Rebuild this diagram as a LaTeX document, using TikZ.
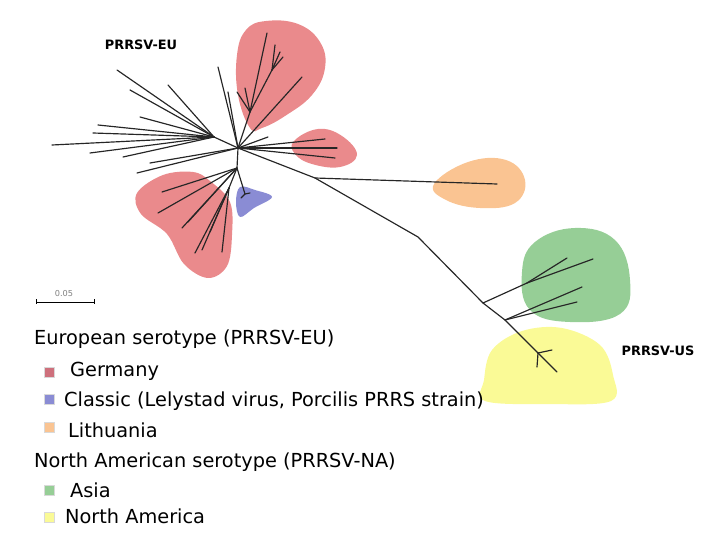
\documentclass[tikz,border=0pt]{standalone}
\usepackage{fontspec}
\setmainfont{DejaVu Sans}
\usetikzlibrary{calc}

\definecolor{germany}{RGB}{234,138,140}
\definecolor{classic}{RGB}{138,140,212}
\definecolor{lithuania}{RGB}{250,196,146}
\definecolor{asia}{RGB}{150,206,150}
\definecolor{northam}{RGB}{250,250,150}
\definecolor{germanykey}{RGB}{206,112,124}

\begin{document}
\begin{tikzpicture}[x=0.03cm, y=-0.03cm,
  branch/.style={line width=1pt, black!85, line cap=round},
  legtext/.style={anchor=base west, font=\fontsize{16.5}{19}\selectfont},
  keybox/.style={minimum size=0.3cm, inner sep=0pt, draw=white!70!gray, line width=0.3pt},
  clade/.style={font=\bfseries\fontsize{11}{13}\selectfont}]
  \useasboundingbox (0,0) rectangle (720,540);
  % gefaerbte Gruppen
  \fill[germany] plot[smooth cycle, tension=0.7] coordinates {
    (250,128) (238,95) (237,55) (246,30) (266,21) (298,24) (320,42) (325,68) (312,95) (285,116) (262,128)};
  \fill[germany] plot[smooth cycle, tension=0.7] coordinates {
    (294,141) (318,129) (342,136) (357,155) (340,167) (312,164) (295,154)};
  \fill[germany] plot[smooth cycle, tension=0.6] coordinates {
    (137,193) (163,175) (193,172) (210,181) (230,202) (232,235) (227,266) (208,278) (184,264) (167,234) (141,214)};
  \fill[classic] plot[smooth cycle, tension=0.6] coordinates {
    (240,187) (255,190) (272,197) (254,208) (240,217) (236,202)};
  \fill[lithuania] plot[smooth cycle, tension=0.7] coordinates {
    (434,184) (468,162) (506,160) (525,180) (515,203) (480,208) (446,200)};
  \fill[asia] plot[smooth cycle, tension=0.7] coordinates {
    (535,242) (575,228) (615,240) (630,280) (620,314) (570,322) (530,310) (522,272)};
  \fill[northam] plot[smooth cycle, tension=0.6] coordinates {
    (484,380) (492,350) (522,331) (562,328) (600,345) (613,375) (611,401) (548,404) (485,401)};

  % Baum
  \coordinate (C) at (238,148);
  \coordinate (A) at (214,137);
  \coordinate (T) at (250,112);
  \coordinate (Tf) at (272,70);
  \coordinate (D) at (237,168);
  \coordinate (Db) at (229,188);
  \coordinate (Bl) at (245,194);
  \coordinate (J) at (315,178);
  \coordinate (U1) at (418,237);
  \coordinate (U2) at (483,303);
  \coordinate (G1) at (527,283);
  \coordinate (U3) at (505,320);
  \coordinate (U4) at (538,353);

  \draw[branch] (C) -- (A);
  \foreach \p in {(117,70),(130,90),(168,85),(140,117),(98,125),(93,133),(52,145),(90,153),(123,157)}
    \draw[branch] (A) -- \p;
  \foreach \p in {(137,173),(150,163),(218,67),(228,92),(302,77),(268,137),(325,139),(337,148),(335,158)}
    \draw[branch] (C) -- \p;
  \draw[branch] (C) -- (T);
  \foreach \p in {(267,33),(245,88),(237,92)}
    \draw[branch] (T) -- \p;
  \draw[branch] (T) -- (Tf);
  \foreach \p in {(275,45),(283,57),(280,52)}
    \draw[branch] (Tf) -- \p;
  \draw[branch] (C) -- (D) -- (Db);
  \foreach \p in {(162,192),(158,213),(182,228),(188,222)}
    \draw[branch] (D) -- \p;
  \foreach \p in {(195,253),(202,250),(210,232),(222,252)}
    \draw[branch] (Db) -- \p;
  \draw[branch] (D) -- (Bl);
  \draw[branch] (Bl) -- (241,198);
  \draw[branch] (Bl) -- (250,193);
  \draw[branch] (C) -- (J) -- (U1) -- (U2) -- (U3) -- (U4);
  \draw[branch] (J) -- (497,184);
  \draw[branch] (U2) -- (G1);
  \draw[branch] (G1) -- (567,258);
  \draw[branch] (G1) -- (593,259);
  \draw[branch] (U3) -- (582,287);
  \draw[branch] (U3) -- (577,302);
  \draw[branch] (U4) -- (552,350);
  \draw[branch] (U4) -- (557,372);
  \draw[branch] (U4) -- (537,367);

  \node[clade] (eu) at (141,45) {PRRSV-EU};
  \node[clade] (us) at (658,351) {PRRSV-US};

  % Massstab
  \coordinate (sL) at (36,302);
  \coordinate (sR) at (94,302);
  \draw[line width=0.6pt] (sL) -- (sR);
  \draw[line width=0.6pt] ($(sL)+(0,-2.5)$) -- ($(sL)+(0,2.5)$);
  \draw[line width=0.6pt] ($(sR)+(0,-2.5)$) -- ($(sR)+(0,2.5)$);
  \node[gray, font=\fontsize{7}{8}\selectfont] (scl) at (64,294) {0.05};

  % Legende
  \node[legtext] (eutitle) at (30,345) {European serotype (PRRSV-EU)};
  \node[keybox, fill=germanykey] (kger) at (49,372) {};
  \node[legtext] (tger) at (66,377) {Germany};
  \node[keybox, fill=classic] (kcla) at (49,399) {};
  \node[legtext] (tcla) at (60,406) {Classic (Lelystad virus, Porcilis PRRS strain)};
  \node[keybox, fill=lithuania] (klit) at (49,427) {};
  \node[legtext] (tlit) at (64,437) {Lithuania};
  \node[legtext] (natitle) at (30,467) {North American serotype (PRRSV-NA)};
  \node[keybox, fill=asia] (kasi) at (49,490) {};
  \node[legtext] (tasi) at (66,497) {Asia};
  \node[keybox, fill=northam] (knam) at (49,517) {};
  \node[legtext] (tnam) at (61,523) {North America};
\end{tikzpicture}
\end{document}
